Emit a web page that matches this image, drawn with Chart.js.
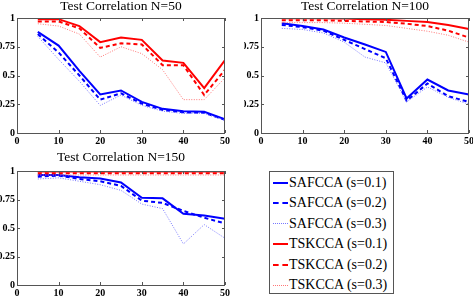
<!DOCTYPE html>
<html>
<head>
<meta charset="utf-8">
<script src="https://cdn.jsdelivr.net/npm/chart.js@4.4.0/dist/chart.umd.min.js"></script>
<style>
  body { margin: 0; background: #fff; width: 473px; height: 296px; overflow: hidden; position: relative; }
  canvas { position: absolute; }
  #legend {
    position: absolute; left: 269px; top: 171px; width: 125px; height: 123px;
    border: 1px solid #555; box-sizing: border-box; background: #fff;
    font-family: 'Liberation Serif', 'Times New Roman', serif; font-size: 14px; color: #000;
  }
  .row { position: absolute; left: 0; height: 20px; line-height: 20px; white-space: nowrap; }
  .sample { position: absolute; left: 3px; top: 10px; width: 15px; height: 0; }
  .txt { position: absolute; left: 19px; top: 0; }
</style>
</head>
<body>
<canvas id="c50" width="236" height="148" style="left:0;top:0"></canvas>
<canvas id="c100" width="229" height="148" style="left:244px;top:0"></canvas>
<canvas id="c150" width="236" height="148" style="left:0;top:148px"></canvas>
<div id="legend"></div>
<script>
// x positions (number of features) and tick labels
const xValues = [5, 10, 15, 20, 25, 30, 35, 40, 45, 50];
const xTicks = [0, 10, 20, 30, 40, 50];
const yTicks = [0, 0.25, 0.5, 0.75, 1];
const yTickLabels = ['0', '0.25', '0.5', '0.75', '1'];
const seriesNames = ['SAFCCA (s=0.1)', 'SAFCCA (s=0.2)', 'SAFCCA (s=0.3)',
                     'TSKCCA (s=0.1)', 'TSKCCA (s=0.2)', 'TSKCCA (s=0.3)'];

// N=50
const saf1_n50 = [0.88, 0.76, 0.54, 0.335, 0.37, 0.27, 0.21, 0.19, 0.185, 0.12];
const saf2_n50 = [0.86, 0.70, 0.50, 0.29, 0.345, 0.255, 0.20, 0.18, 0.175, 0.115];
const saf3_n50 = [0.84, 0.64, 0.45, 0.24, 0.33, 0.24, 0.19, 0.17, 0.17, 0.11];
const tsk1_n50 = [0.99, 0.99, 0.93, 0.79, 0.83, 0.81, 0.63, 0.61, 0.39, 0.635];
const tsk2_n50 = [0.97, 0.97, 0.91, 0.74, 0.78, 0.77, 0.59, 0.59, 0.33, 0.55];
const tsk3_n50 = [0.95, 0.93, 0.86, 0.66, 0.75, 0.69, 0.55, 0.29, 0.29, 0.48];

// N=100
const saf1_n100 = [0.955, 0.93, 0.90, 0.83, 0.77, 0.705, 0.30, 0.465, 0.37, 0.335];
const saf2_n100 = [0.94, 0.92, 0.89, 0.81, 0.73, 0.65, 0.28, 0.43, 0.32, 0.27];
const saf3_n100 = [0.91, 0.90, 0.87, 0.79, 0.66, 0.61, 0.27, 0.40, 0.31, 0.25];
const tsk1_n100 = [0.998, 0.998, 0.997, 0.995, 0.99, 0.985, 0.975, 0.965, 0.94, 0.905];
const tsk2_n100 = [0.98, 0.98, 0.98, 0.975, 0.97, 0.965, 0.95, 0.93, 0.89, 0.83];
const tsk3_n100 = [0.96, 0.96, 0.96, 0.955, 0.945, 0.935, 0.91, 0.885, 0.85, 0.79];

// N=150
const saf1_n150 = [0.965, 0.965, 0.945, 0.935, 0.90, 0.765, 0.76, 0.625, 0.61, 0.58];
const saf2_n150 = [0.95, 0.96, 0.93, 0.91, 0.87, 0.74, 0.72, 0.65, 0.59, 0.54];
const saf3_n150 = [0.93, 0.94, 0.91, 0.88, 0.83, 0.71, 0.67, 0.36, 0.53, 0.41];
const tsk1_n150 = [0.995, 0.995, 0.995, 0.995, 0.995, 0.995, 0.995, 0.995, 0.995, 0.995];
const tsk2_n150 = [0.98, 0.98, 0.98, 0.98, 0.98, 0.98, 0.98, 0.98, 0.98, 0.98];
const tsk3_n150 = [0.965, 0.965, 0.965, 0.965, 0.965, 0.965, 0.965, 0.965, 0.965, 0.965];

const serif = "'Liberation Serif', 'Times New Roman', serif";
const styles = [
  { color: '#0000ff', width: 2, dash: [] },
  { color: '#0000ff', width: 2, dash: [4, 3] },
  { color: '#7777ff', width: 1, dash: [1, 1.5] },
  { color: '#ff0000', width: 2, dash: [] },
  { color: '#ff0000', width: 2, dash: [4, 3] },
  { color: '#ff7777', width: 1, dash: [1, 1.5] }
];

// box + inward ticks, matlab style
const framePlugin = {
  id: 'frame',
  afterDraw(chart) {
    const { ctx, chartArea: a, scales } = chart;
    ctx.save();
    ctx.strokeStyle = '#555';
    ctx.lineWidth = 1;
    ctx.strokeRect(a.left + 0.5, a.top + 0.5, a.right - a.left - 1, a.bottom - a.top);
    ctx.beginPath();
    xTicks.forEach(v => {
      const px = Math.round(scales.x.getPixelForValue(v)) + 0.5;
      ctx.moveTo(px, a.bottom); ctx.lineTo(px, a.bottom - 3);
      ctx.moveTo(px, a.top); ctx.lineTo(px, a.top + 3);
    });
    yTicks.forEach(v => {
      const py = Math.round(scales.y.getPixelForValue(v)) + 0.5;
      ctx.moveTo(a.left, py); ctx.lineTo(a.left + 3, py);
      ctx.moveTo(a.right, py); ctx.lineTo(a.right - 3, py);
    });
    ctx.stroke();
    ctx.restore();
  }
};

function makeChart(id, title, series, opts) {
  const datasets = series.map((vals, i) => ({
    label: seriesNames[i],
    data: xValues.map((x, j) => ({ x: x, y: vals[j] })),
    borderColor: styles[i].color,
    borderWidth: styles[i].width,
    borderDash: styles[i].dash,
    pointRadius: 0,
    tension: 0,
    fill: false,
    order: series.length - i
  }));
  return new Chart(document.getElementById(id), {
    type: 'line',
    data: { datasets: datasets },
    options: {
      responsive: false,
      animation: false,
      layout: { padding: { left: 0, right: opts.right, top: 0, bottom: 0 } },
      plugins: {
        legend: { display: false },
        tooltip: { enabled: false },
        title: {
          display: true,
          text: title,
          fullSize: false,
          color: '#000',
          font: { family: serif, size: 13.5, weight: 'normal', lineHeight: 1 },
          padding: { top: opts.titleTop, bottom: opts.titleBottom }
        }
      },
      scales: {
        x: {
          type: 'linear', min: 0, max: 50,
          grid: { display: false, drawTicks: false },
          border: { display: false },
          afterBuildTicks: s => { s.ticks = xTicks.map(v => ({ value: v })); },
          afterFit: s => { s.height = opts.xh; s.paddingLeft = 0; s.paddingRight = 0; },
          ticks: {
            color: '#000', padding: 2, maxRotation: 0, autoSkip: false,
            font: { family: serif, size: 10, weight: 'bold' },
            callback: v => String(v)
          }
        },
        y: {
          type: 'linear', min: 0, max: 1,
          grid: { display: false, drawTicks: false },
          border: { display: false },
          afterBuildTicks: s => { s.ticks = yTicks.map(v => ({ value: v })); },
          afterFit: s => { s.width = 17; s.paddingTop = 0; s.paddingBottom = 0; },
          ticks: {
            color: '#000', padding: 2, autoSkip: false,
            font: { family: serif, size: 10, weight: 'bold' },
            callback: v => yTickLabels[yTicks.indexOf(v)]
          }
        }
      }
    },
    plugins: [framePlugin]
  });
}

makeChart('c50', 'Test Correlation N=50',
  [saf1_n50, saf2_n50, saf3_n50, tsk1_n50, tsk2_n50, tsk3_n50],
  { right: 11, titleTop: 0, titleBottom: 4.5, xh: 15 });
makeChart('c100', 'Test Correlation N=100',
  [saf1_n100, saf2_n100, saf3_n100, tsk1_n100, tsk2_n100, tsk3_n100],
  { right: 4, titleTop: 0, titleBottom: 4.5, xh: 15 });
makeChart('c150', 'Test Correlation N=150',
  [saf1_n150, saf2_n150, saf3_n150, tsk1_n150, tsk2_n150, tsk3_n150],
  { right: 11, titleTop: 2.5, titleBottom: 7, xh: 11 });

// legend
const legend = document.getElementById('legend');
seriesNames.forEach((name, i) => {
  const st = styles[i];
  const row = document.createElement('div');
  row.className = 'row';
  row.style.top = (1 + i * 20.4) + 'px';
  const sample = document.createElement('div');
  sample.className = 'sample';
  const kind = st.dash.length === 0 ? 'solid' : (st.width > 1 ? 'dashed' : 'dotted');
  sample.style.borderTop = st.width + 'px ' + kind + ' ' + st.color;
  sample.style.top = (10 - st.width / 2) + 'px';
  const txt = document.createElement('span');
  txt.className = 'txt';
  txt.textContent = name;
  row.appendChild(sample);
  row.appendChild(txt);
  legend.appendChild(row);
});
</script>
</body>
</html>
